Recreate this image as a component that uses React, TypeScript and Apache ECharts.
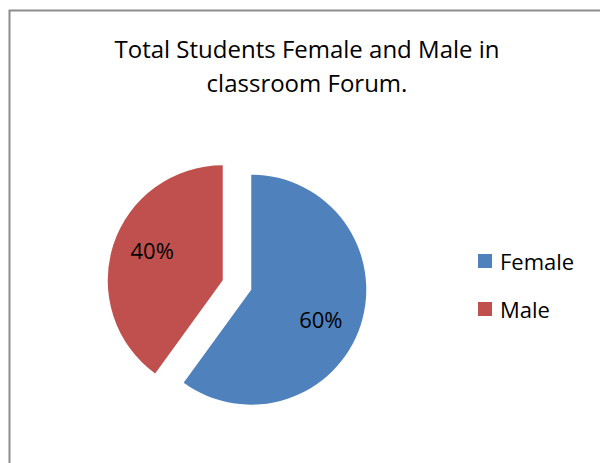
import React, { useEffect, useRef } from "react";
import * as echarts from "echarts";

const categories = ["Female", "Male"];
const values = [60, 40];
const colors = ["#4F81BD", "#C0504D"];
const titleLines = ["Total Students Female and Male in", "classroom Forum."];

const FONT = "'Open Sans', 'Liberation Sans', sans-serif";

export default function App() {
  const ref = useRef<HTMLDivElement>(null);
  useEffect(() => {
    if (!ref.current) return;
    const chart = echarts.init(ref.current, null, { renderer: "svg" });
    const labelShift = [
      { dx: 12, dy: 11 },
      { dx: -13, dy: -12 },
    ];
    chart.setOption({
      animation: false,
      backgroundColor: "#ffffff",
      title: {
        text: titleLines.join("\n"),
        left: 307,
        top: 31,
        textAlign: "center",
        padding: 0,
        textStyle: {
          fontFamily: FONT,
          fontSize: 24,
          fontWeight: "normal",
          color: "#000000",
          lineHeight: 34,
        },
      },
      legend: {
        orient: "vertical",
        left: 478,
        top: 250,
        padding: 0,
        itemWidth: 14,
        itemHeight: 14,
        itemGap: 26,
        icon: "rect",
        selectedMode: false,
        data: categories,
        textStyle: {
          fontFamily: FONT,
          fontSize: 22,
          color: "#000000",
          padding: [0, 0, 0, 3],
        },
      },
      graphic: [
        {
          type: "rect",
          shape: { x: 9.5, y: 10.5, width: 800, height: 700 },
          style: { fill: "none", stroke: "#8c8c8c", lineWidth: 2 },
          silent: true,
          z: 100,
        },
      ],
      series: [
        {
          type: "pie",
          center: [237, 285],
          radius: [0, 115],
          startAngle: 90,
          clockwise: true,
          selectedMode: "multiple",
          selectedOffset: 15,
          silent: true,
          emphasis: { disabled: true },
          itemStyle: { borderWidth: 0 },
          label: {
            show: true,
            position: "inside",
            formatter: "{d}%",
            fontFamily: FONT,
            fontSize: 22,
            color: "#000000",
          },
          labelLine: { show: false },
          labelLayout: (params: any) => labelShift[params.dataIndex] || {},
          data: categories.map((name, i) => ({
            name,
            value: values[i],
            selected: true,
            itemStyle: { color: colors[i] },
          })),
        },
      ],
    });
    return () => chart.dispose();
  }, []);
  return (
    <div
      ref={ref}
      style={{ position: "fixed", left: 0, top: 0, width: 600, height: 463 }}
    />
  );
}
